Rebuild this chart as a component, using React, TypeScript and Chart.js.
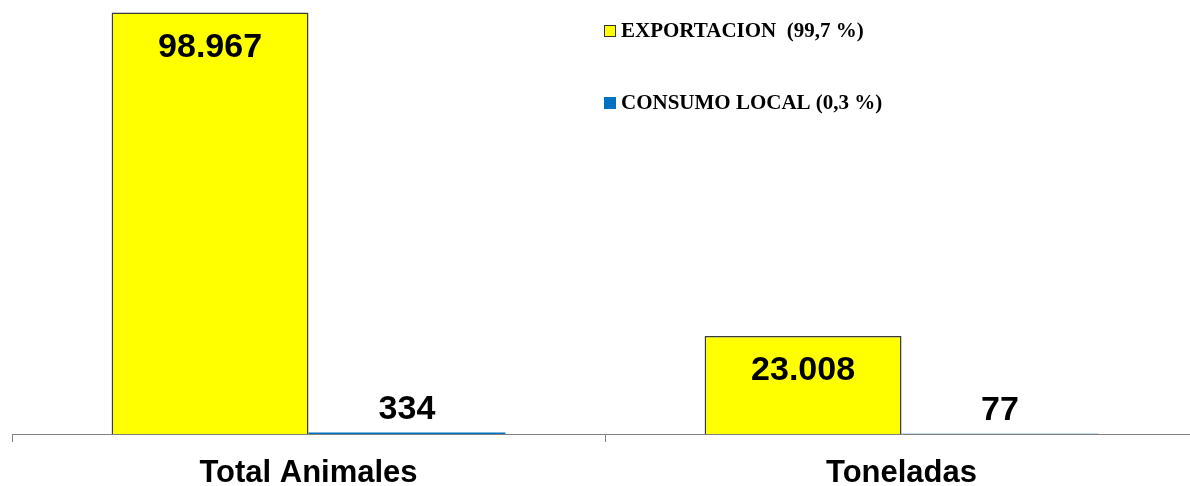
import React, { useEffect, useRef } from "react";
import { Chart, registerables } from "chart.js";

Chart.register(...registerables);

const categories = ["Total Animales", "Toneladas"];
const exportValues = [98967, 23008];
const localValues = [334, 77];
const seriesLabels = ["EXPORTACION  (99,7 %)", "CONSUMO LOCAL (0,3 %)"];

const fmt = (v: number) => String(Math.round(v)).replace(/\B(?=(\d{3})+(?!\d))/g, ".");

const valueLabels = {
  id: "valueLabels",
  afterDatasetsDraw(chart: any) {
    const ctx = chart.ctx;
    ctx.save();
    ctx.fillStyle = "#000";
    ctx.font = "bold 34px 'Liberation Sans', Arial, sans-serif";
    ctx.textAlign = "center";
    ctx.textBaseline = "middle";
    chart.data.datasets.forEach((ds: any, di: number) => {
      const meta = chart.getDatasetMeta(di);
      meta.data.forEach((el: any, i: number) => {
        const v = ds.data[i];
        const y = di === 0 ? el.y + 35 : el.y - 23;
        ctx.fillText(fmt(v), el.x, y);
      });
    });
    ctx.restore();
  },
};

const customLegend = {
  id: "customLegend",
  afterDraw(chart: any) {
    const ctx = chart.ctx;
    ctx.save();
    const rows = [31, 103];
    chart.data.datasets.forEach((ds: any, di: number) => {
      const cy = rows[di];
      ctx.fillStyle = ds.backgroundColor;
      ctx.fillRect(604, cy - 6, 12, 12);
      if (di === 0) {
        ctx.strokeStyle = "#333";
        ctx.lineWidth = 1;
        ctx.strokeRect(604.5, cy - 5.5, 11, 11);
      }
      ctx.fillStyle = "#000";
      ctx.font = "bold 21px 'Liberation Serif', 'Times New Roman', serif";
      ctx.textAlign = "left";
      ctx.textBaseline = "middle";
      ctx.fillText(ds.label, 621, cy + 1);
    });
    ctx.restore();
  },
};

export default function App() {
  const ref = useRef<HTMLCanvasElement>(null);
  useEffect(() => {
    if (!ref.current) return;
    const chart = new Chart(ref.current, {
      type: "bar",
      data: {
        labels: categories,
        datasets: [
          {
            label: seriesLabels[0],
            data: exportValues,
            backgroundColor: "#FFFF00",
            borderColor: "#3a3a3a",
            borderWidth: 1.5,
            categoryPercentage: 0.664,
            barPercentage: 1,
          },
          {
            label: seriesLabels[1],
            data: localValues,
            backgroundColor: "#0070C0",
            borderWidth: 0,
            categoryPercentage: 0.664,
            barPercentage: 1,
          },
        ],
      },
      options: {
        responsive: false,
        animation: false,
        layout: { padding: { left: 12, right: 12, top: 8, bottom: 0 } },
        plugins: {
          legend: { display: false },
          tooltip: { enabled: false },
        },
        scales: {
          x: {
            afterFit: (s: any) => {
              s.height = 52;
            },
            grid: {
              drawOnChartArea: false,
              drawTicks: true,
              tickLength: 8,
              color: "#808080",
              offset: true,
            },
            border: { display: true, color: "#808080", width: 1 },
            ticks: {
              color: "#000",
              padding: 13,
              font: { family: "'Liberation Sans', Arial, sans-serif", size: 31, weight: "bold" },
            },
          },
          y: {
            display: false,
            min: 0,
            max: 100000,
          },
        },
      },
      plugins: [valueLabels, customLegend],
    });
    return () => chart.destroy();
  }, []);
  return (
    <div style={{ position: "fixed", left: 0, top: 0, width: 1190, height: 486, overflow: "hidden", background: "#fff" }}>
      <canvas ref={ref} width={1210} height={486} style={{ width: 1210, height: 486, display: "block" }} />
    </div>
  );
}
